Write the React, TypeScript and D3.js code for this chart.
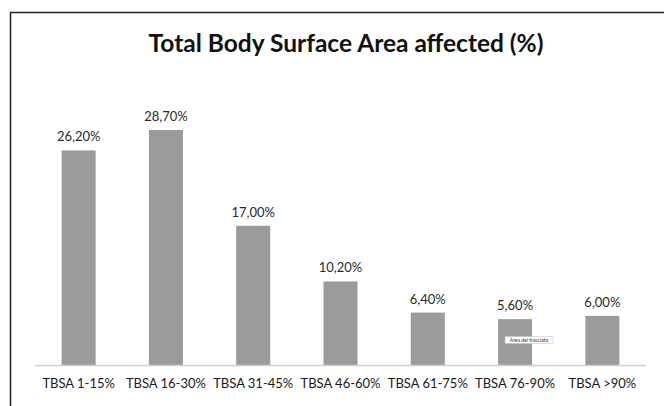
import React from "react";
import * as d3 from "d3";

const categories = ["TBSA 1-15%", "TBSA 16-30%", "TBSA 31-45%", "TBSA 46-60%", "TBSA 61-75%", "TBSA 76-90%", "TBSA >90%"];
const values = [26.2, 28.7, 17.0, 10.2, 6.4, 5.6, 6.0];
const valueLabels = ["26,20%", "28,70%", "17,00%", "10,20%", "6,40%", "5,60%", "6,00%"];
const title = "Total Body Surface Area affected (%)";
const tooltipText = "Area del tracciato";

const W = 664;
const H = 406;
const font = "Lato, 'Open Sans', sans-serif";

export default function App() {
  const x = d3.scaleBand<string>().domain(categories).range([35, 646]).paddingInner(0.61).paddingOuter(0.305);
  const y = d3.scaleLinear().domain([0, 28.7]).range([365, 130]);
  return (
    <svg width={W} height={H} style={{ position: "absolute", left: 0, top: 0 }}>
      <rect x={0} y={0} width={W} height={H} fill="#fff" />
      <rect x={10.5} y={12.5} width={W} height={H} fill="none" stroke="#222" strokeWidth={1.5} />
      <text x={346} y={52} textAnchor="middle" fontFamily={font} fontWeight={700} fontSize={24.5} fill="#111">{title}</text>
      {categories.map((c, i) => (
        <g key={c}>
          <rect x={x(c)} y={y(values[i])} width={x.bandwidth()} height={y(0) - y(values[i])} fill="#9b9b9b" />
          <text x={(x(c) as number) + x.bandwidth() / 2} y={y(values[i]) - 9} textAnchor="middle" fontFamily={font} fontSize={13} fill="#2a2a2a">{valueLabels[i]}</text>
          <text x={(x(c) as number) + x.bandwidth() / 2} y={388} textAnchor="middle" fontFamily={font} fontSize={13} fill="#1a1a1a">{c}</text>
        </g>
      ))}
      <line x1={35} x2={646} y1={365.5} y2={365.5} stroke="#cfcfcf" strokeWidth={1.5} />
      <g>
        <rect x={505} y={336.5} width={48} height={7} fill="#fff" stroke="#bbb" strokeWidth={0.5} />
        <text x={529} y={342} textAnchor="middle" fontFamily={font} fontSize={5} fill="#333">{tooltipText}</text>
      </g>
    </svg>
  );
}
